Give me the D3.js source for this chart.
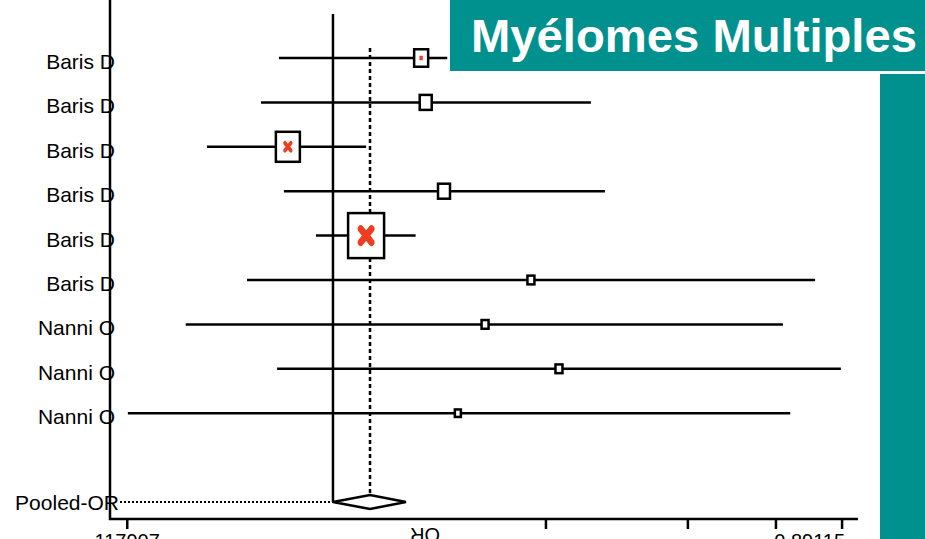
<!DOCTYPE html>
<html>
<head>
<meta charset="utf-8">
<script src="https://cdn.jsdelivr.net/npm/d3@7"></script>
<style>
  body { margin: 0; background: #fff; }
  svg { display: block; font-family: "Liberation Sans", Arial, sans-serif; }
</style>
</head>
<body>
<svg width="925" height="539"></svg>
<script>
// studies (top to bottom)
const studies = ["Baris D", "Baris D", "Baris D", "Baris D", "Baris D", "Baris D", "Nanni O", "Nanni O", "Nanni O"];
const orEst = [1.85, 1.91, 0.73, 2.17, 1.26, 3.98, 2.89, 4.84, 2.39];
const ciLow = [0.686, 0.605, 0.415, 0.710, 0.888, 0.549, 0.358, 0.677, 0.239];
const ciHigh = [2.22, 6.05, 1.26, 6.67, 1.78, 28.9, 23.1, 34.6, 24.3];
const weights = [14, 12, 24, 12, 36, 7, 7, 7, 6];
const flagged = [0.12, 0, 0.25, 0, 0.3, 0, 0, 0, 0]; // red cross inside box
const pooled = { label: "Pooled-OR", est: 1.295, lo: 1.0, hi: 1.664 };
const tickVals = [0.238, 4.42, 11.9, 22.0, 34.9];
const tickLabels = ["117907", "", "", "", "0.89115"];
const title = "Myélomes Multiples";
const teal = "#00918e";

const svg = d3.select("svg");
const width = +svg.attr("width");
const height = +svg.attr("height");

const x = d3.scaleLog().domain([0.211, 39.0]).range([110, 858]);
const y = d3.scaleLinear().domain([0, 10]).range([58, 502]);
const size = d3.scaleLinear().domain([0, 36]).range([0, 36]);
const aspect = 1.25; // boxes are drawn taller than wide

// axes
const axisY = 519;
svg.append("line")
    .attr("x1", 110).attr("x2", 110)
    .attr("y1", 0).attr("y2", axisY + 1)
    .attr("stroke", "#000").attr("stroke-width", 2.5);

svg.append("line")
    .attr("x1", 109).attr("x2", x.range()[1])
    .attr("y1", axisY).attr("y2", axisY)
    .attr("stroke", "#000").attr("stroke-width", 2.5);

svg.selectAll(".tick")
    .data(tickVals)
    .enter().append("line")
    .attr("class", "tick")
    .attr("x1", d => x(d)).attr("x2", d => x(d))
    .attr("y1", axisY).attr("y2", axisY + 10)
    .attr("stroke", "#000").attr("stroke-width", 2.5);

svg.selectAll(".ticklabel")
    .data(tickVals)
    .enter().append("text")
    .attr("class", "ticklabel")
    .attr("x", (d, i) => i === tickVals.length - 1 ? x(d) + 3 : x(d))
    .attr("y", 548)
    .attr("text-anchor", (d, i) => i === tickVals.length - 1 ? "end" : "middle")
    .attr("font-size", 20)
    .text((d, i) => tickLabels[i]);

// upside-down axis title
svg.append("text")
    .attr("transform", "translate(" + 425 + "," + 528 + ") rotate(180)")
    .attr("text-anchor", "middle")
    .attr("font-size", 20)
    .text("OR");

// null line (OR = 1)
svg.append("line")
    .attr("x1", x(1)).attr("x2", x(1))
    .attr("y1", 14).attr("y2", y(10))
    .attr("stroke", "#000").attr("stroke-width", 2.5);

// pooled estimate dotted line
svg.append("line")
    .attr("x1", x(pooled.est)).attr("x2", x(pooled.est))
    .attr("y1", 48).attr("y2", y(10) - 7)
    .attr("stroke", "#000").attr("stroke-width", 2.5)
    .attr("stroke-dasharray", "4,3");

// rows
const rows = studies.map((s, i) => ({
    name: s, est: orEst[i], lo: ciLow[i], hi: ciHigh[i], w: weights[i], flag: flagged[i], i: i
}));

svg.selectAll(".label")
    .data(rows)
    .enter().append("text")
    .attr("class", "label")
    .attr("x", 115)
    .attr("y", d => y(d.i) + 11)
    .attr("text-anchor", "end")
    .attr("font-size", 21)
    .text(d => d.name);

svg.selectAll(".ci")
    .data(rows)
    .enter().append("line")
    .attr("class", "ci")
    .attr("x1", d => x(d.lo)).attr("x2", d => x(d.hi))
    .attr("y1", d => y(d.i)).attr("y2", d => y(d.i))
    .attr("stroke", "#000").attr("stroke-width", 2.5);

svg.selectAll(".box")
    .data(rows)
    .enter().append("rect")
    .attr("class", "box")
    .attr("x", d => x(d.est) - size(d.w) / 2)
    .attr("y", d => y(d.i) - size(d.w) * aspect / 2)
    .attr("width", d => size(d.w))
    .attr("height", d => size(d.w) * aspect)
    .attr("fill", "#fff")
    .attr("stroke", "#000").attr("stroke-width", 2.5);

const marks = svg.selectAll(".mark")
    .data(rows.filter(d => d.flag > 0))
    .enter().append("g")
    .attr("class", "mark")
    .attr("transform", d => "translate(" + x(d.est) + "," + y(d.i) + ") scale(1," + aspect + ")");

marks.append("path")
    .attr("d", d => {
        const s = size(d.w) * d.flag / 2;
        return "M" + (-s) + "," + (-s) + "L" + s + "," + s + "M" + s + "," + (-s) + "L" + (-s) + "," + s;
    })
    .attr("stroke", "#ee3d1f")
    .attr("stroke-width", d => Math.max(2, size(d.w) * d.flag * 0.55))
    .attr("stroke-linecap", "round");

// pooled row
const py = y(10);
svg.append("text")
    .attr("x", 119)
    .attr("y", py + 8)
    .attr("text-anchor", "end")
    .attr("font-size", 21)
    .text(pooled.label);

svg.append("line")
    .attr("x1", 120).attr("x2", x(pooled.lo))
    .attr("y1", py).attr("y2", py)
    .attr("stroke", "#000").attr("stroke-width", 2)
    .attr("stroke-dasharray", "2,2");

svg.append("path")
    .attr("d", "M" + x(pooled.lo) + "," + py +
        "L" + x(pooled.est) + "," + (py - 7) +
        "L" + x(pooled.hi) + "," + py +
        "L" + x(pooled.est) + "," + (py + 7) + "Z")
    .attr("fill", "#fff")
    .attr("stroke", "#000").attr("stroke-width", 2.5);

// title banner
svg.append("rect")
    .attr("x", 450).attr("y", 0)
    .attr("width", width - 450).attr("height", 71)
    .attr("fill", teal);

svg.append("text")
    .attr("x", 471).attr("y", 52)
    .attr("fill", "#fff")
    .attr("font-size", 47)
    .attr("font-weight", "bold")
    .attr("textLength", 446)
    .attr("lengthAdjust", "spacingAndGlyphs")
    .text(title);

svg.append("rect")
    .attr("x", 880).attr("y", 74)
    .attr("width", width - 880).attr("height", height - 74)
    .attr("fill", teal);
</script>
</body>
</html>
